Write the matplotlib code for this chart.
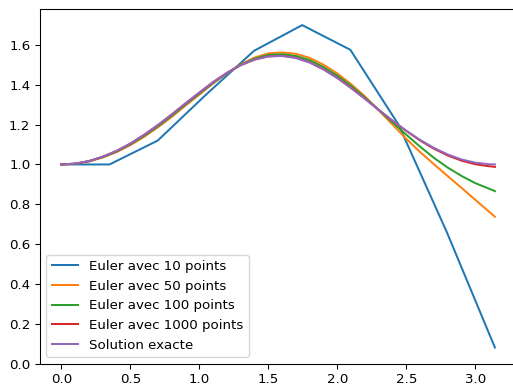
import numpy as np
import matplotlib
matplotlib.use("Agg")
import matplotlib.pyplot as plt

# Euler method, 10 points
t_10 = [0.0, 0.349, 0.698, 1.047, 1.396, 1.745, 2.094, 2.443, 2.793, 3.1416]
y_10 = [1.0, 1.0, 1.12, 1.35, 1.571, 1.70, 1.576, 1.20, 0.66, 0.08]

# Common sampling for the finer curves
t_fine = [0.0, 0.1, 0.2, 0.3, 0.4, 0.5, 0.6, 0.7, 0.8, 0.9, 1.0,
          1.1, 1.2, 1.3, 1.4, 1.5, 1.6, 1.7, 1.8, 1.9, 2.0,
          2.1, 2.2, 2.3, 2.4, 2.5, 2.6, 2.7, 2.8, 2.9, 3.0,
          3.1, 3.1416]

y_50 = [1.000, 1.003, 1.015, 1.035, 1.062, 1.097, 1.139, 1.187, 1.239, 1.296, 1.351,
        1.407, 1.458, 1.503, 1.537, 1.558, 1.563, 1.556, 1.535, 1.501, 1.457,
        1.403, 1.342, 1.272, 1.200, 1.128, 1.062, 1.001, 0.941, 0.882, 0.822,
        0.762, 0.737]
y_100 = [1.000, 1.004, 1.016, 1.037, 1.065, 1.101, 1.144, 1.192, 1.245, 1.301, 1.356,
         1.410, 1.459, 1.501, 1.532, 1.550, 1.554, 1.545, 1.524, 1.489, 1.446,
         1.394, 1.336, 1.274, 1.211, 1.149, 1.089, 1.033, 0.984, 0.942, 0.906,
         0.878, 0.866]
y_1000 = [1.000, 1.004, 1.017, 1.039, 1.068, 1.105, 1.149, 1.198, 1.251, 1.307, 1.361,
          1.414, 1.460, 1.499, 1.527, 1.543, 1.546, 1.536, 1.513, 1.478, 1.435,
          1.384, 1.330, 1.274, 1.219, 1.168, 1.120, 1.079, 1.045, 1.019, 1.001,
          0.991, 0.988]
y_exact = [1.000, 1.004, 1.017, 1.039, 1.068, 1.105, 1.149, 1.198, 1.251, 1.307, 1.361,
           1.414, 1.460, 1.499, 1.527, 1.543, 1.545, 1.535, 1.512, 1.477, 1.434,
           1.384, 1.330, 1.274, 1.220, 1.169, 1.123, 1.083, 1.050, 1.025, 1.009,
           1.001, 1.000]

labels = ["Euler avec 10 points", "Euler avec 50 points",
          "Euler avec 100 points", "Euler avec 1000 points",
          "Solution exacte"]

dpi = 96.2
W, H = 513, 389
fig = plt.figure(figsize=(W / dpi, H / dpi), dpi=dpi)
left, right, bottom, top = 39.7, 516.6, 363.7, 9.0
ax = fig.add_axes([left / W, (H - bottom) / H, (right - left) / W, (bottom - top) / H])

ax.plot(t_10, y_10, label=labels[0])
ax.plot(t_fine, y_50, label=labels[1])
ax.plot(t_fine, y_100, label=labels[2])
ax.plot(t_fine, y_1000, label=labels[3])
ax.plot(t_fine, y_exact, label=labels[4])

ax.legend(loc="lower left")

fig.savefig("out.png", dpi=dpi)
